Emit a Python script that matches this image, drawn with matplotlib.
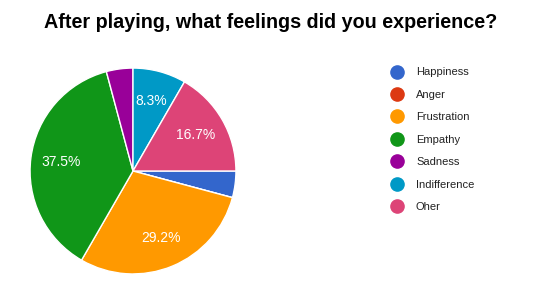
import matplotlib
matplotlib.use("Agg")
import matplotlib.pyplot as plt
from matplotlib.lines import Line2D

plt.rcParams['font.family'] = ['Liberation Sans', 'DejaVu Sans']

categories = ["Happiness", "Anger", "Frustration", "Empathy", "Sadness", "Indifference", "Oher"]
counts = [1, 0, 7, 9, 1, 2, 4]
colors = ["#3366CC", "#DC3912", "#FF9900", "#109618", "#990099", "#0099C6", "#DD4477"]
title = "After playing, what feelings did you experience?"

W, H = 541, 288
fig = plt.figure(figsize=(W / 100, H / 100), dpi=100)
fig.patch.set_facecolor("white")

cx, cy, r = 133, 171, 105
ax = fig.add_axes([(cx - r) / W, (H - cy - r) / H, 2 * r / W, 2 * r / H])

def fmt(p):
    return f"{p:.1f}%" if p >= 5 else ""

wedges, texts, autotexts = ax.pie(
    counts, colors=colors, startangle=0, counterclock=False,
    autopct=fmt, pctdistance=0.7,
    wedgeprops=dict(edgecolor="white", linewidth=1),
    textprops=dict(color="white", fontsize=10),
)
ax.set_xlim(-1.02, 1.02)
ax.set_ylim(-1.02, 1.02)
ax.set_aspect("equal")
ax.axis("off")

fig.text(0.5, 1 - 22 / H, title, ha="center", va="center", fontsize=14.2, fontweight="bold", color="#000000")

handles = [Line2D([0], [0], marker="o", linestyle="", markersize=9.5,
                  markerfacecolor=c, markeredgecolor=c) for c in colors]
fig.legend(handles, categories, loc="upper left", bbox_to_anchor=(386 / W, 1 - 63 / H),
           frameon=False, fontsize=8, labelspacing=1.12, handlelength=1.2,
           handletextpad=1.1, borderaxespad=0, labelcolor="#222222")

fig.savefig("out.png", dpi=100, facecolor="white")
